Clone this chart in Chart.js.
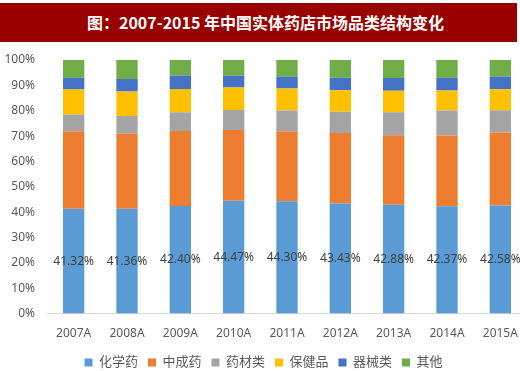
<!DOCTYPE html>
<html>
<head>
<meta charset="utf-8">
<script src="https://cdn.jsdelivr.net/npm/chart.js@4.4.0/dist/chart.umd.min.js"></script>
<style>
  html, body { margin: 0; padding: 0; background: #fff; overflow: hidden; }
  #wrap { position: relative; width: 530px; height: 371px; overflow: hidden; }
  #title {
    position: absolute; left: 0; top: 3px; width: 517px; height: 39px;
    background: #990000; color: #fff; z-index: 2;
    font: bold 16px "Noto Sans CJK SC", "Noto Sans", sans-serif;
    line-height: 39px; text-align: center; text-indent: 14px;
  }
  canvas { position: absolute; left: 0; top: 0; }
</style>
</head>
<body>
<div id="wrap">
  <div id="title">图：2007-2015 年中国实体药店市场品类结构变化</div>
  <canvas id="chart" width="530" height="381"></canvas>
</div>
<script>
const years = ['2007A', '2008A', '2009A', '2010A', '2011A', '2012A', '2013A', '2014A', '2015A'];
const chemical = [41.32, 41.36, 42.40, 44.47, 44.30, 43.43, 42.88, 42.37, 42.58];
const patentTcm = [30.6, 29.6, 29.6, 27.9, 27.6, 27.8, 27.4, 27.9, 28.8];
const herbs = [6.6, 7.0, 7.4, 7.9, 8.2, 8.4, 9.1, 9.8, 8.8];
const health = [9.8, 9.6, 9.2, 8.9, 8.7, 8.4, 8.5, 7.9, 8.3];
const devices = [4.7, 4.9, 5.3, 4.6, 4.6, 5.0, 5.0, 5.0, 5.0];
const others = [7.0, 7.5, 6.1, 6.2, 6.6, 7.0, 7.1, 7.0, 6.5];
const yTicks = [0, 10, 20, 30, 40, 50, 60, 70, 80, 90, 100];

const font = "'Noto Sans', 'Noto Sans CJK SC', sans-serif";

// labels on the chemical segment
const segLabels = {
  id: 'segLabels',
  afterDatasetsDraw(chart) {
    const c = chart.ctx;
    const meta = chart.getDatasetMeta(0);
    c.save();
    c.font = '12px ' + font;
    c.fillStyle = '#404040';
    c.textAlign = 'center';
    c.textBaseline = 'middle';
    meta.data.forEach((bar, i) => {
      c.fillText(chemical[i].toFixed(2) + '%', bar.x, (bar.y + bar.base) / 2);
    });
    c.restore();
  }
};

new Chart(document.getElementById('chart'), {
  type: 'bar',
  data: {
    labels: years,
    datasets: [
      { label: '化学药', data: chemical, backgroundColor: '#5B9BD5' },
      { label: '中成药', data: patentTcm, backgroundColor: '#ED7D31' },
      { label: '药材类', data: herbs, backgroundColor: '#A5A5A5' },
      { label: '保健品', data: health, backgroundColor: '#FFC000' },
      { label: '器械类', data: devices, backgroundColor: '#4472C4' },
      { label: '其他', data: others, backgroundColor: '#70AD47' }
    ]
  },
  options: {
    responsive: false,
    animation: false,
    layout: { padding: { top: 60, right: 3, left: 0, bottom: 2 } },
    datasets: { bar: { categoryPercentage: 1, barPercentage: 0.4 } },
    plugins: {
      legend: {
        position: 'bottom',
        labels: { boxWidth: 8, boxHeight: 8, padding: 10, color: '#595959', font: { size: 13, family: font } }
      },
      tooltip: { enabled: false }
    },
    scales: {
      x: {
        stacked: true,
        grid: { display: false },
        border: { display: true, color: '#D9D9D9' },
        ticks: { color: '#595959', font: { size: 12, family: font }, padding: 5, maxRotation: 0 }
      },
      y: {
        stacked: true,
        min: 0,
        max: 100,
        afterBuildTicks: (scale) => { scale.ticks = yTicks.map(v => ({ value: v })); },
        afterFit: (scale) => { scale.width = 47; },
        grid: { display: false },
        border: { display: false },
        ticks: { color: '#595959', font: { size: 12, family: font }, padding: 4, callback: v => v + '%' }
      }
    }
  },
  plugins: [segLabels]
});
</script>
</body>
</html>
